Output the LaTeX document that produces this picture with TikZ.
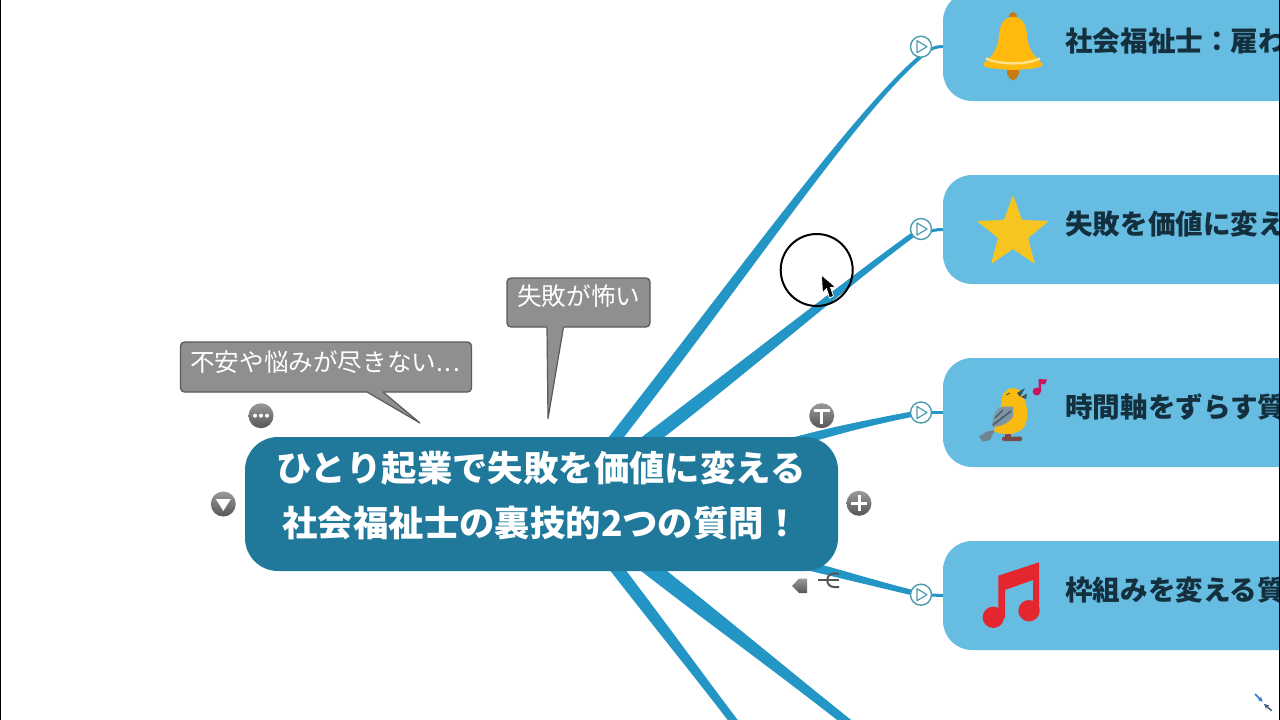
\documentclass[tikz,border=0pt]{standalone}
\usepackage{fontspec}
\usetikzlibrary{calc,backgrounds,arrows.meta}
\newfontfamily\jpfont{Noto Sans CJK JP}
\definecolor{hubblue}{HTML}{20789B}
\definecolor{topicblue}{HTML}{66BDE1}
\definecolor{linkblue}{HTML}{2396C6}
\definecolor{playteal}{HTML}{4E9BAE}
\definecolor{topicink}{HTML}{14303F}
\definecolor{notefill}{HTML}{8F8F8F}
\definecolor{noteline}{HTML}{5A5A5A}
\definecolor{bellgold}{HTML}{FFB90F}
\definecolor{bellband}{HTML}{FFE28A}
\definecolor{bellbrown}{HTML}{C97A12}
\definecolor{stargold}{HTML}{F7C520}
\definecolor{birdyellow}{HTML}{F9BB12}
\definecolor{birdwing}{HTML}{7F95A3}
\definecolor{birdstripe}{HTML}{44596A}
\definecolor{birdtail}{HTML}{6F8592}
\definecolor{birdleg}{HTML}{7A4A4A}
\definecolor{beakdark}{HTML}{37505C}
\definecolor{notepink}{HTML}{C8145F}
\definecolor{notered}{HTML}{E3262F}
\definecolor{ballhi}{HTML}{9A9A9A}
\definecolor{balllo}{HTML}{565656}
\definecolor{forkgrey}{HTML}{555555}
\definecolor{arrowa}{HTML}{2B7CC4}
\definecolor{arrowb}{HTML}{3B5D80}
\newcommand\taperlink[8]{\fill[linkblue] ($(#1)+(#5,#6)$) .. controls ($(#2)+(#5,#6)$) and ($(#3)+(#7,#8)$) .. ($(#4)+(#7,#8)$) -- ($(#4)-(#7,#8)$) .. controls ($(#3)-(#7,#8)$) and ($(#2)-(#5,#6)$) .. ($(#1)-(#5,#6)$) -- cycle;}
\tikzset{
  hubnode/.style={fill=hubblue,rounded corners=33pt,minimum width=593pt,minimum height=134pt,inner sep=0pt},
  hublabel/.style={inner sep=0pt,text=white,align=center,font=\jpfont\bfseries\fontsize{35.4}{55}\selectfont},
  topicnode/.style={fill=topicblue,rounded corners=29pt,minimum width=400pt,minimum height=109pt,inner sep=0pt},
  topiclabel/.style={anchor=west,inner sep=0pt,text=topicink,font=\jpfont\bfseries\fontsize{27.6}{30}\selectfont},
  playnode/.style={circle,fill=white,draw=playteal,line width=1.4pt,minimum size=21pt,inner sep=0pt},
  playglyph/.style={draw=playteal,line width=1.2pt,line join=round},
  notenode/.style={fill=notefill,draw=noteline,line width=1.3pt,rounded corners=4pt,inner sep=0pt},
  notelabel/.style={anchor=west,inner sep=0pt,text=white,font=\jpfont\fontsize{24.6}{28}\selectfont},
  ballnode/.style={circle,top color=ballhi,bottom color=balllo,minimum size=25pt,inner sep=0pt},
  thinlink/.style={draw=linkblue,line width=3pt},
  glyphline/.style={draw=white,line width=3pt},
}
\begin{document}
\begin{tikzpicture}[x=1pt,y=-1pt]
\useasboundingbox (0,0) rectangle (1280,720);
\begin{scope}
\clip (0,0) rectangle (1280,720);
% central topic
\node[hubnode] (hub) at (541.5,504) {};
\node[hublabel] (hubtext) at (541,496) {ひとり起業で失敗を価値に変える\\社会福祉士の裏技的2つの質問！};
% main topics
\node[topicnode] (t1) at (1143,46.5) {};
\node[topicnode] (t2) at (1143,229.5) {};
\node[topicnode] (t3) at (1143,412.5) {};
\node[topicnode] (t4) at (1143,595.5) {};
\node[topiclabel] (l1) at (1065,41) {社会福祉士：雇われ};
\node[topiclabel] (l2) at (1065,224) {失敗を価値に変える};
\node[topiclabel] (l3) at (1065,407) {時間軸をずらす質問};
\node[topiclabel] (l4) at (1065,590) {枠組みを変える質問};
% folding buttons
\node[playnode] (p1) at (921,46.7) {};
\node[playnode] (p2) at (921,229) {};
\node[playnode] (p3) at (921,412.5) {};
\node[playnode] (p4) at (921,594.7) {};
\foreach \p in {p1,p2,p3,p4} \draw[playglyph] ($(\p)+(-4,-6)$) -- ($(\p)+(6,0)$) -- ($(\p)+(-4,6)$) -- cycle;
% bell
\fill[bellbrown] (1013,16) circle (4);
\fill[bellbrown] (1007,68) rectangle (1019,75);
\fill[bellbrown] (1013,75) circle (5);
\fill[bellgold] (1013,17) .. controls (1003,17) and (1000,25) .. (999,35) .. controls (998,48) and (993,56) .. (983,64) .. controls (983,67) and (990,69) .. (1013,70) .. controls (1036,69) and (1043,67) .. (1043,64) .. controls (1033,56) and (1028,48) .. (1027,35) .. controls (1026,25) and (1023,17) .. (1013,17) -- cycle;
\draw[bellband,line width=2.4pt] (986,58.5) .. controls (1000,65) and (1026,65) .. (1040,58.5);
% star
\fill[stargold,rounded corners=1pt] (1013,195) -- (1022,220) -- (1049,221) -- (1028,238) -- (1035,264) -- (1013,249) -- (991,264) -- (998,238) -- (977,221) -- (1004,220) -- cycle;
% bird
\fill[birdtail] (979,436.7) -- (987,431.5) -- (995,430) -- (990,440) -- (983,441.7) -- cycle;
\fill[birdleg] (1005,430) rectangle (1011,438);
\fill[birdleg,rounded corners=1.5pt] (1002,436.5) rectangle (1022,441);
\fill[birdyellow] (1001.5,400) .. controls (1002,392) and (1008,388) .. (1013,388) .. controls (1018,388) and (1022,392) .. (1023,397) .. controls (1028,405) and (1029,420) .. (1024,427) .. controls (1018,435) and (1003,436) .. (994,431) .. controls (997,418) and (1001,410) .. (1001.5,400) -- cycle;
\fill[beakdark] (1017,393) -- (1025,388) -- (1020,397) -- cycle;
\fill[beakdark] (1021,397) -- (1027,393.5) -- (1026,399) -- cycle;
\draw[beakdark,line width=.8pt] (1006,395) -- (1010,393);
\fill[birdwing] (991.7,426.7) .. controls (993,416) and (996,408) .. (1002,406.7) -- (1013.3,406.7) -- (1013,416.7) .. controls (1008,424) and (1000,427) .. (991.7,426.7) -- cycle;
\draw[birdstripe,line width=1.5pt] (993,425) -- (1011,411);
\draw[birdstripe,line width=1.3pt] (995,418) -- (1003,410);
\fill[notepink] (1036.7,391.5) circle (4);
\fill[notepink] (1038.5,379) -- (1047,379.5) -- (1045,384.5) -- (1041,383.5) -- (1041,392) -- (1038.5,392) -- cycle;
% music notes
\fill[notered] (998.3,575.7) -- (1039,562.3) -- (1039,611) -- (1033,611) -- (1033,580) -- (1005,590) -- (1005,618) -- (998.3,618) -- cycle;
\fill[notered] (993.3,617.3) circle (10.7);
\fill[notered] (1029,610.7) circle (10.7);
% call-outs
\node[notenode,minimum width=291pt,minimum height=50pt] (n1) at (326,367) {};
\node[notenode,minimum width=143pt,minimum height=49pt] (n2) at (578.5,302.5) {};
\coordinate (n1a) at (367,392);
\coordinate (n1b) at (383,392);
\coordinate (n1tip) at (420,423);
\coordinate (n2a) at (547,327);
\coordinate (n2b) at (563.5,327);
\coordinate (n2tip) at (548,418.5);
\fill[notefill] ($(n1a)+(0,-1.5)$) -- (n1a) -- (n1tip) -- (n1b) -- ($(n1b)+(0,-1.5)$) -- cycle;
\draw[noteline,line width=1.2pt,line join=round] (n1a) -- (n1tip) -- (n1b);
\fill[notefill] ($(n2a)+(0,-1.5)$) -- (n2a) -- (n2tip) -- (n2b) -- ($(n2b)+(0,-1.5)$) -- cycle;
\draw[noteline,line width=1.2pt,line join=round] (n2a) -- (n2tip) -- (n2b);
\node[notelabel] (n1t) at (190,362.5) {不安や悩みが尽きない.\kern1.6pt.\kern1.6pt.};
\node[notelabel] (n2t) at (517,296.5) {失敗が怖い};
% small round buttons
\node[ballnode] (bdots) at (261,415.7) {};
\fill[white] ($(bdots)+(-6,0)$) circle (2) (bdots) circle (2) ($(bdots)+(6,0)$) circle (2);
\node[ballnode] (bdown) at (223.3,504) {};
\fill[white] ($(bdown)+(-7.5,-5)$) -- ($(bdown)+(7.5,-5)$) -- ($(bdown)+(0,7)$) -- cycle;
\node[ballnode] (bplus) at (859,503.3) {};
\draw[glyphline] ($(bplus)+(-8,0)$) -- ($(bplus)+(8,0)$) ($(bplus)+(0,-8)$) -- ($(bplus)+(0,8)$);
\node[ballnode] (bt) at (821.7,415.7) {};
\draw[glyphline] ($(bt)+(-8,-5)$) -- ($(bt)+(8,-5)$) ($(bt)+(0,-5)$) -- ($(bt)+(0,8)$);
% small tag and fork
\shade[top color=ballhi,bottom color=balllo] (792,586) -- (799,578.5) -- (807,578.5) -- (807,593) -- (799,593) -- cycle;
\draw[forkgrey,line width=2pt] (818,580) -- (839,580);
\draw[forkgrey,line width=2pt] (839,573.5) -- (834,573.5) .. controls (825,573.5) and (825,587) .. (834,587) -- (839,587);
% pointer ring and arrow
\draw[black,line width=2pt] (816.7,270) circle (36);
\draw[white,line width=.8pt,fill=black,line join=round] (821.5,275) -- (822.5,293) -- (826.5,288.5) -- (829.5,298) -- (833.5,296) -- (830.5,287.5) -- (835.5,287) -- cycle;
% collapse icon
\draw[-{Stealth[length=5pt,width=5pt]},line width=1.5pt,arrowa] (1255,694) -- (1262.7,701.7);
\draw[-{Stealth[length=5pt,width=5pt]},line width=1.5pt,arrowb] (1271.7,710.7) -- (1264,704);
\end{scope}
% connectors under the nodes
\begin{scope}[on background layer]
\fill[white] (0,0) rectangle (1280,720);
\clip (0,0) rectangle (1280,720);
\coordinate (s1) at (600,458);
\coordinate (s2) at (640,447);
\coordinate (s3) at (790,443);
\coordinate (s4) at (790,561.3);
\coordinate (s5) at (610,560);
\coordinate (s6) at (640,560);
\coordinate (e1) at (925,53);
\coordinate (e5) at (738,727);
\coordinate (e6) at (853,727);
\taperlink{s1}{740,280}{860,105}{e1}{4.8}{3.6}{1.4}{1.4}
\taperlink{s2}{735,375}{860,272}{p2}{4.2}{5.4}{1.5}{2}
\taperlink{s3}{830,432}{870,422}{p3}{1}{4.5}{.6}{2.6}
\taperlink{s4}{830,571}{880,585}{p4}{-1.2}{4.5}{-.6}{2.6}
\taperlink{s5}{650,612}{700,677}{e5}{8}{0}{5}{0}
\taperlink{s6}{710,615}{790,677}{e6}{13}{0}{7}{0}
\draw[thinlink] (e1) .. controls (931,48.5) and (936,46.5) .. (t1.west);
\draw[thinlink] (p2) .. controls (930,231) and (936,229.5) .. (t2.west);
\draw[thinlink] (p3) -- (t3.west);
\draw[thinlink] (p4) -- (t4.west);
\end{scope}
\fill[black] (0,0) rectangle (1.2,720);
\fill[black] (1278.8,0) rectangle (1280,720);
\end{tikzpicture}
\end{document}
